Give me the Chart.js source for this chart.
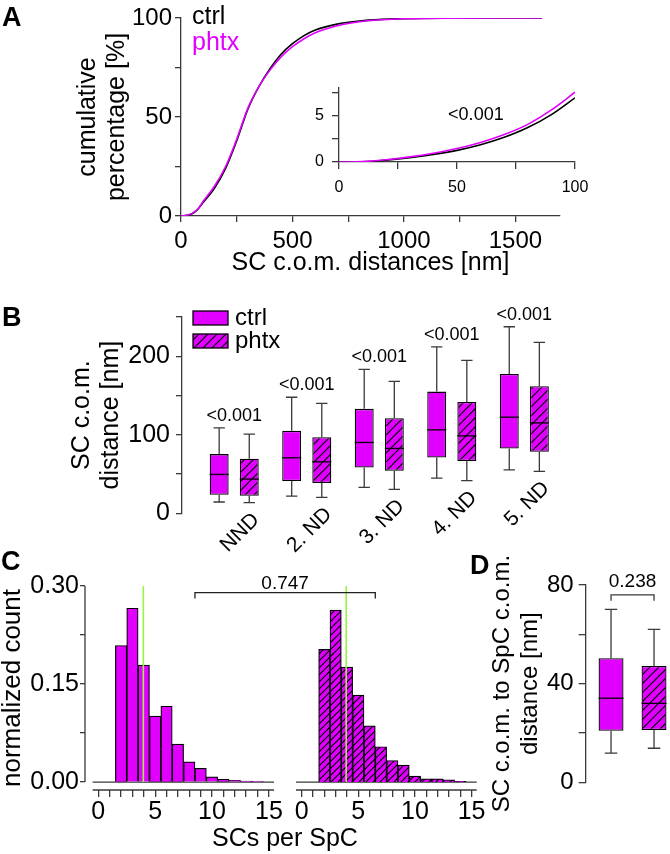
<!DOCTYPE html>
<html>
<head>
<meta charset="utf-8">
<script src="https://cdn.jsdelivr.net/npm/chart.js@4.4.1/dist/chart.umd.min.js"></script>
<style>
  html, body { margin: 0; padding: 0; background: #fff; }
  body { position: relative; width: 670px; height: 854px; overflow: hidden; font-family: "Liberation Sans", Arial, sans-serif; }
  canvas { position: absolute; }
  .panel { position: absolute; font-weight: bold; font-size: 27px; line-height: 1; }
</style>
</head>
<body>
<canvas id="chartA" width="670" height="290" style="left:0;top:0"></canvas>
<canvas id="chartInset" width="300" height="140" style="left:300px;top:70px"></canvas>
<canvas id="chartB" width="670" height="270" style="left:0;top:290px"></canvas>
<canvas id="chartCL" width="500" height="294" style="left:0;top:560px"></canvas>
<canvas id="chartCR" width="500" height="294" style="left:0;top:560px"></canvas>
<canvas id="chartD" width="190" height="314" style="left:480px;top:540px"></canvas>
<div class="panel" style="left:2px;top:4px">A</div>
<div class="panel" style="left:2px;top:304px">B</div>
<div class="panel" style="left:1px;top:548px">C</div>
<div class="panel" style="left:470px;top:552px">D</div>
<script>
// Panel A: cumulative distribution of SC c.o.m. distances (nm -> %)
const distA = [0, 25, 50, 75, 100, 150, 200, 250, 300, 350, 400, 450, 500, 550, 600, 700, 800, 900, 1000, 1200, 1400, 1620];
const ctrlA = [0, 0.3, 1.1, 3.3, 6.9, 14, 24, 38, 54, 65.5, 74.5, 81.8, 87, 91, 93.8, 96.9, 98.5, 99.3, 99.7, 99.95, 100, 100];
const phtxA = [0, 0.3, 1.3, 3.5, 7.5, 15, 25, 38.8, 54.5, 65.5, 73.8, 80.5, 85.5, 89.4, 92.4, 96.1, 98.1, 99.1, 99.6, 99.95, 100, 100];
const xTicksA = [0, 250, 500, 750, 1000, 1250, 1500];
const yTicksA = [0, 25, 50, 75, 100];

// inset: first 100 nm
const distInset = [0, 10, 20, 30, 40, 50, 60, 70, 80, 90, 100];
const ctrlInset = [0, 0.03, 0.2, 0.45, 0.8, 1.25, 1.85, 2.65, 3.7, 5.1, 6.9];
const phtxInset = [0, 0.04, 0.25, 0.55, 0.95, 1.45, 2.1, 2.95, 4.05, 5.6, 7.5];
const xTicksInset = [0, 25, 50, 75, 100];
const yTicksInset = [0, 2.5, 5, 7.5];
const pInset = "<0.001";

// Panel B: box plots [min, q1, median, q3, max]
const catsB = ["NND", "2. ND", "3. ND", "4. ND", "5. ND"];
const ctrlB = [
  [14.4, 23.7, 49.5, 75.4, 108.8],
  [22, 41, 70.7, 105, 147.8],
  [33, 58.4, 90.2, 133, 183.4],
  [44.9, 71.1, 106.3, 155, 212],
  [55.4, 82.6, 122.4, 177.4, 237.6],
];
const phtxB = [
  [13.5, 22.4, 43.6, 69.4, 100.8],
  [20.3, 38.5, 65.6, 97, 140],
  [30.5, 54.2, 82.6, 121, 168],
  [41.5, 66.5, 98.6, 141.8, 194.8],
  [53.4, 78.3, 115.1, 161.8, 217.7],
];
const pB = ["<0.001", "<0.001", "<0.001", "<0.001", "<0.001"];
const yTicksB = [0, 50, 100, 150, 200, 250];

// Panel C: histograms of SCs per SpC
const binsC = [2, 3, 4, 5, 6, 7, 8, 9, 10, 11, 12, 13, 14];
const ctrlC = [0.209, 0.266, 0.179, 0.101, 0.116, 0.058, 0.031, 0.021, 0.008, 0.004, 0.0025, 0.0015, 0.001];
const phtxC = [0.203, 0.263, 0.176, 0.133, 0.086, 0.054, 0.033, 0.026, 0.009, 0.005, 0.005, 0.0035, 0.001];
const meanC = [3.96, 3.93];
const xTicksC = [0, 1, 2, 3, 4, 5, 6, 7, 8, 9, 10, 11, 12, 13, 14, 15];
const yTicksC = [0, 0.075, 0.15, 0.225, 0.3];
const axisStartC = -0.5;
const bracketC = [8.5, 6.5, 0.29];
const pC = "0.747";

// Panel D: SC c.o.m. to SpC c.o.m. distance [min, q1, median, q3, max]
const ctrlD = [11.8, 20.9, 34.1, 50.3, 70.1];
const phtxD = [13.8, 21.2, 32.0, 47.2, 62.0];
const yTicksD = [0, 20, 40, 60, 80];
const bracketYD = 76;
const pD = "0.238";

const MAG = "#e100ff";
const AX = "#3a3a3a";
const GREEN = "#96f542";
const FONT = '"Liberation Sans", Arial, sans-serif';

Chart.defaults.font.family = FONT;
Chart.defaults.color = "#000";

function setTicks(values) {
  return function (scale) {
    scale.ticks = values.map((v) => ({ value: v }));
  };
}
function showOnly(values, fmt) {
  return function (v) {
    return values.indexOf(v) >= 0 ? (fmt ? fmt(v) : String(v)) : "";
  };
}
function fixWidth(w) {
  return function (s) { s.width = w; };
}
function fixHeight(h) {
  return function (s) { s.height = h; };
}
function gridStyle(len) {
  return { drawOnChartArea: false, tickLength: len, color: AX, lineWidth: 1.3 };
}
const borderStyle = { color: AX, width: 1.3 };

function baseOptions(padding) {
  return {
    responsive: false,
    animation: false,
    events: [],
    layout: { padding },
    plugins: { legend: { display: false }, tooltip: { enabled: false } },
  };
}

function makeHatch(step) {
  const c = document.createElement("canvas");
  c.width = step;
  c.height = step;
  const g = c.getContext("2d");
  g.fillStyle = MAG;
  g.fillRect(0, 0, step, step);
  g.strokeStyle = "#000";
  g.lineWidth = 1.2;
  g.beginPath();
  g.moveTo(-1, step + 1); g.lineTo(step + 1, -1);
  g.moveTo(-1, 1); g.lineTo(1, -1);
  g.moveTo(step - 1, step + 1); g.lineTo(step + 1, step - 1);
  g.stroke();
  return g.createPattern(c, "repeat");
}

function points(xs, ys) {
  return xs.map((x, i) => ({ x, y: ys[i] }));
}

// whiskers + median for floating-bar boxes
function boxWhiskers(stats, capFrac) {
  return {
    id: "boxWhiskers",
    afterDatasetsDraw(chart) {
      const ctx = chart.ctx;
      const y = chart.scales.y;
      chart.data.datasets.forEach((ds, d) => {
        chart.getDatasetMeta(d).data.forEach((bar, i) => {
          const s = stats[d][i];
          const half = bar.width / 2;
          const cap = (bar.width * capFrac) / 2;
          const yMin = y.getPixelForValue(s[0]);
          const yQ1 = y.getPixelForValue(s[1]);
          const yMed = y.getPixelForValue(s[2]);
          const yQ3 = y.getPixelForValue(s[3]);
          const yMax = y.getPixelForValue(s[4]);
          ctx.save();
          ctx.lineWidth = 1.3;
          ctx.strokeStyle = AX;
          ctx.beginPath();
          ctx.moveTo(bar.x, yQ3); ctx.lineTo(bar.x, yMax);
          ctx.moveTo(bar.x - cap, yMax); ctx.lineTo(bar.x + cap, yMax);
          ctx.moveTo(bar.x, yQ1); ctx.lineTo(bar.x, yMin);
          ctx.moveTo(bar.x - cap, yMin); ctx.lineTo(bar.x + cap, yMin);
          ctx.stroke();
          ctx.strokeStyle = "#000";
          ctx.beginPath();
          ctx.moveTo(bar.x - half, yMed); ctx.lineTo(bar.x + half, yMed);
          ctx.stroke();
          ctx.restore();
        });
      });
    },
  };
}

// ---------- A ----------
const legendTextA = {
  id: "legendTextA",
  afterDraw(chart) {
    const { ctx, chartArea: a } = chart;
    ctx.save();
    ctx.font = "25px " + FONT;
    ctx.textAlign = "left";
    ctx.textBaseline = "alphabetic";
    chart.data.datasets.forEach((ds, i) => {
      ctx.fillStyle = ds.borderColor;
      ctx.fillText(ds.label, a.left + 11, a.top + 6 + i * 25.5);
    });
    ctx.restore();
  },
};

new Chart(document.getElementById("chartA"), {
  type: "line",
  data: {
    datasets: [
      { label: "ctrl", data: points(distA, ctrlA), borderColor: "#000", order: 1 },
      { label: "phtx", data: points(distA, phtxA), borderColor: MAG, order: 0 },
    ],
  },
  options: Object.assign(baseOptions({ left: 72, right: 110, top: 18, bottom: 0 }), {
    elements: { point: { radius: 0 }, line: { borderWidth: 1.6, cubicInterpolationMode: "monotone" } },
    scales: {
      x: {
        type: "linear", min: 0, max: 1700,
        afterBuildTicks: setTicks(xTicksA), afterFit: fixHeight(74),
        ticks: { callback: showOnly([0, 500, 1000, 1500]), autoSkip: false, maxRotation: 0, font: { size: 24 }, padding: 5 },
        grid: gridStyle(6), border: borderStyle,
        title: { display: true, text: "SC c.o.m. distances [nm]", font: { size: 25, lineHeight: 1.16 }, padding: { top: 0, bottom: 12 } },
      },
      y: {
        type: "linear", min: 0, max: 100,
        afterBuildTicks: setTicks(yTicksA), afterFit: fixWidth(109),
        ticks: { callback: showOnly([0, 50, 100]), autoSkip: false, font: { size: 24 }, padding: 3 },
        grid: gridStyle(6), border: borderStyle,
        title: { display: true, text: ["cumulative", "percentage [%]"], font: { size: 25, lineHeight: 1.16 }, padding: { top: 2, bottom: 0 } },
      },
    },
  }),
  plugins: [legendTextA],
});

const pLabelInset = {
  id: "pLabelInset",
  afterDraw(chart) {
    const { ctx, scales: { x, y } } = chart;
    ctx.save();
    ctx.font = "18px " + FONT;
    ctx.fillStyle = "#000";
    ctx.textAlign = "center";
    ctx.textBaseline = "middle";
    ctx.fillText(pInset, x.getPixelForValue(58), y.getPixelForValue(5));
    ctx.restore();
  },
};

new Chart(document.getElementById("chartInset"), {
  type: "line",
  data: {
    datasets: [
      { label: "ctrl", data: points(distInset, ctrlInset), borderColor: "#000", order: 1 },
      { label: "phtx", data: points(distInset, phtxInset), borderColor: MAG, order: 0 },
    ],
  },
  options: Object.assign(baseOptions({ left: 0, right: 25, top: 12, bottom: 0 }), {
    elements: { point: { radius: 0 }, line: { borderWidth: 1.6, cubicInterpolationMode: "monotone" } },
    scales: {
      x: {
        type: "linear", min: 0, max: 100,
        afterBuildTicks: setTicks(xTicksInset), afterFit: fixHeight(48),
        ticks: { callback: showOnly([0, 50, 100]), autoSkip: false, maxRotation: 0, font: { size: 16 }, padding: 9 },
        grid: gridStyle(7), border: borderStyle,
      },
      y: {
        type: "linear", min: 0, max: 8,
        afterBuildTicks: setTicks(yTicksInset), afterFit: fixWidth(39),
        ticks: { callback: showOnly([0, 5]), autoSkip: false, font: { size: 16 }, padding: 8 },
        grid: gridStyle(7), border: borderStyle,
      },
    },
  }),
  plugins: [pLabelInset],
});

// ---------- B ----------
const hatchB = makeHatch(9);

const groupLabelsB = {
  id: "groupLabelsB",
  afterDatasetsDraw(chart) {
    const { ctx, chartArea: a, scales: { x, y } } = chart;
    ctx.save();
    ctx.fillStyle = "#000";
    catsB.forEach((cat, i) => {
      const cx = x.getPixelForValue(i);
      const top = y.getPixelForValue(Math.max(ctrlB[i][4], phtxB[i][4]));
      const low = y.getPixelForValue(Math.min(ctrlB[i][0], phtxB[i][0]));
      ctx.font = "18px " + FONT;
      ctx.textAlign = "center";
      ctx.textBaseline = "alphabetic";
      ctx.fillText(pB[i], cx, top - 7);
      ctx.save();
      ctx.translate(cx + 26, low + 18);
      ctx.rotate(-Math.PI / 4);
      ctx.font = "21px " + FONT;
      ctx.textAlign = "right";
      ctx.fillText(cat, 0, 0);
      ctx.restore();
    });
    // legend swatches
    chart.data.datasets.forEach((ds, d) => {
      const sy = a.top - 6 + d * 23;
      ctx.fillStyle = ds.backgroundColor;
      ctx.fillRect(a.left + 11, sy, 35, 14);
      ctx.strokeStyle = "#000";
      ctx.lineWidth = 1.3;
      ctx.strokeRect(a.left + 11, sy, 35, 14);
      ctx.fillStyle = "#000";
      ctx.font = "24px " + FONT;
      ctx.textAlign = "left";
      ctx.textBaseline = "alphabetic";
      ctx.fillText(ds.label, a.left + 53, sy + 14);
    });
    ctx.restore();
  },
};

new Chart(document.getElementById("chartB"), {
  type: "bar",
  data: {
    datasets: [
      { label: "ctrl", data: ctrlB.map((s, i) => ({ x: i, y: [s[1], s[3]] })), backgroundColor: MAG },
      { label: "phtx", data: phtxB.map((s, i) => ({ x: i, y: [s[1], s[3]] })), backgroundColor: hatchB },
    ],
  },
  options: Object.assign(baseOptions({ left: 65, right: 100, top: 27, bottom: 46.7 }), {
    datasets: { bar: { borderColor: "#000", borderWidth: 1.3, borderSkipped: false, barPercentage: 0.63, categoryPercentage: 0.83 } },
    scales: {
      x: {
        type: "linear", display: false, offset: false, min: -0.72, max: 4.63,
        afterBuildTicks: setTicks(catsB.map((c, i) => i)),
        grid: { offset: false },
      },
      y: {
        type: "linear", min: 0, max: 250,
        afterBuildTicks: setTicks(yTicksB), afterFit: fixWidth(117),
        ticks: { callback: showOnly([0, 100, 200]), autoSkip: false, font: { size: 25 }, padding: 6 },
        grid: gridStyle(6), border: borderStyle,
        title: { display: true, text: ["SC c.o.m.", "distance [nm]"], font: { size: 25, lineHeight: 1.16 }, padding: { top: 2.5, bottom: 0 } },
      },
    },
  }),
  plugins: [boxWhiskers([ctrlB, phtxB], 0.6), groupLabelsB],
});

// ---------- C ----------
const hatchC = makeHatch(7);

function histAxes(withY) {
  return {
    id: "histAxes",
    beforeDatasetsDraw(chart) {
      const { ctx, scales: { x, y } } = chart;
      const x0 = x.getPixelForValue(axisStartC);
      const x1 = x.right;
      const y0 = y.getPixelForValue(0);
      ctx.save();
      ctx.strokeStyle = AX;
      ctx.lineWidth = 1.3;
      ctx.beginPath();
      ctx.moveTo(x0, y0); ctx.lineTo(x1, y0);
      ctx.moveTo(x0, x.top); ctx.lineTo(x1, x.top);
      if (withY) {
        ctx.moveTo(x.left, y.getPixelForValue(yTicksC[yTicksC.length - 1]));
        ctx.lineTo(x.left, y0);
      }
      ctx.stroke();
      ctx.restore();
    },
  };
}

function histScales(showY) {
  const y = {
    type: "linear", min: -0.0122, max: 0.3,
    afterBuildTicks: setTicks(yTicksC),
  };
  if (showY) {
    Object.assign(y, {
      afterFit: fixWidth(85),
      ticks: { callback: showOnly([0, 0.15, 0.3], (v) => v.toFixed(2)), autoSkip: false, font: { size: 25 }, padding: 1 },
      grid: gridStyle(5), border: { display: false },
      title: { display: true, text: "normalized count", font: { size: 26, lineHeight: 1 }, padding: 0 },
    });
  } else {
    y.display = false;
  }
  return {
    x: {
      type: "linear", offset: false, min: -1.17, max: 15.45,
      afterBuildTicks: setTicks(xTicksC), afterFit: fixHeight(64),
      ticks: { callback: showOnly([0, 5, 10, 15]), autoSkip: false, maxRotation: 0, font: { size: 25 }, padding: 0 },
      grid: Object.assign(gridStyle(7), { offset: false }), border: { display: false },
    },
    y,
  };
}

function histData(label, values, mean, fill) {
  return {
    datasets: [
      { type: "line", label: "mean", data: [{ x: mean, y: 0 }, { x: mean, y: yTicksC[yTicksC.length - 1] }], borderColor: GREEN, borderWidth: 1.6, pointRadius: 0, order: 1 },
      { type: "bar", label, data: points(binsC, values), backgroundColor: fill, order: 2 },
    ],
  };
}

const barOptsC = { bar: { borderColor: "#000", borderWidth: 1.2, barPercentage: 1, categoryPercentage: 1 } };

const chartCL = new Chart(document.getElementById("chartCL"), {
  type: "bar",
  data: histData("ctrl", ctrlC, meanC[0], MAG),
  options: Object.assign(baseOptions({ left: 0, right: 226, top: 26, bottom: 0 }), {
    datasets: barOptsC,
    scales: histScales(true),
  }),
  plugins: [histAxes(true)],
});

const bracketCPlugin = {
  id: "bracketC",
  afterDraw(chart) {
    const { ctx, scales: { x, y } } = chart;
    const xl = chartCL.scales.x.getPixelForValue(bracketC[0]);
    const xr = x.getPixelForValue(bracketC[1]);
    const yb = y.getPixelForValue(bracketC[2]);
    ctx.save();
    ctx.strokeStyle = "#222";
    ctx.lineWidth = 1.3;
    ctx.beginPath();
    ctx.moveTo(xl, yb + 6); ctx.lineTo(xl, yb); ctx.lineTo(xr, yb); ctx.lineTo(xr, yb + 6);
    ctx.stroke();
    ctx.fillStyle = "#000";
    ctx.font = "19px " + FONT;
    ctx.textAlign = "center";
    ctx.textBaseline = "alphabetic";
    ctx.fillText(pC, (xl + xr) / 2, yb - 4);
    // shared x title
    ctx.font = "25px " + FONT;
    const cx = (chartCL.scales.x.getPixelForValue(0) + x.getPixelForValue(15)) / 2;
    ctx.fillText("SCs per SpC", cx, chart.height - 8);
    ctx.restore();
  },
};

new Chart(document.getElementById("chartCR"), {
  type: "bar",
  data: histData("phtx", phtxC, meanC[1], hatchC),
  options: Object.assign(baseOptions({ left: 288.4, right: 23.3, top: 26, bottom: 0 }), {
    datasets: barOptsC,
    scales: histScales(false),
  }),
  plugins: [histAxes(false), bracketCPlugin],
});

// ---------- D ----------
const hatchD = makeHatch(9);

const bracketDPlugin = {
  id: "bracketD",
  afterDraw(chart) {
    const { ctx, scales: { y } } = chart;
    const xa = chart.getDatasetMeta(0).data[0].x;
    const xb = chart.getDatasetMeta(1).data[0].x;
    const yb = y.getPixelForValue(bracketYD);
    ctx.save();
    ctx.strokeStyle = AX;
    ctx.lineWidth = 1.3;
    ctx.beginPath();
    ctx.moveTo(xa, yb + 6); ctx.lineTo(xa, yb); ctx.lineTo(xb, yb); ctx.lineTo(xb, yb + 6);
    ctx.stroke();
    ctx.fillStyle = "#000";
    ctx.font = "19px " + FONT;
    ctx.textAlign = "center";
    ctx.textBaseline = "alphabetic";
    ctx.fillText(pD, (xa + xb) / 2, yb - 8);
    // axis title (longer than the axis, so drawn here)
    const cy = (y.top + y.bottom) / 2;
    ctx.font = "24px " + FONT;
    ctx.textBaseline = "middle";
    ["SC c.o.m. to SpC c.o.m.", "distance [nm]"].forEach((line, i) => {
      ctx.save();
      ctx.translate(22.5 + i * 28, cy);
      ctx.rotate(-Math.PI / 2);
      ctx.fillText(line, 0, 0);
      ctx.restore();
    });
    ctx.restore();
  },
};

new Chart(document.getElementById("chartD"), {
  type: "bar",
  data: {
    datasets: [
      { label: "ctrl", data: [{ x: 0, y: [ctrlD[1], ctrlD[3]] }], backgroundColor: MAG },
      { label: "phtx", data: [{ x: 0, y: [phtxD[1], phtxD[3]] }], backgroundColor: hatchD },
    ],
  },
  options: Object.assign(baseOptions({ left: 7, right: 0, top: 45, bottom: 71.7 }), {
    datasets: { bar: { borderColor: "#000", borderWidth: 1.3, borderSkipped: false, barPercentage: 0.58, categoryPercentage: 1.02 } },
    scales: {
      x: {
        type: "linear", display: false, offset: false, min: -1, max: 0.8,
        afterBuildTicks: setTicks([0]),
        grid: { offset: false },
      },
      y: {
        type: "linear", min: 0, max: 80,
        afterBuildTicks: setTicks(yTicksD), afterFit: fixWidth(98.7),
        ticks: { callback: showOnly([0, 40, 80]), autoSkip: false, font: { size: 24 }, padding: 5 },
        grid: gridStyle(7), border: borderStyle,
      },
    },
  }),
  plugins: [boxWhiskers([[ctrlD], [phtxD]], 0.5), bracketDPlugin],
});
</script>
</body>
</html>
